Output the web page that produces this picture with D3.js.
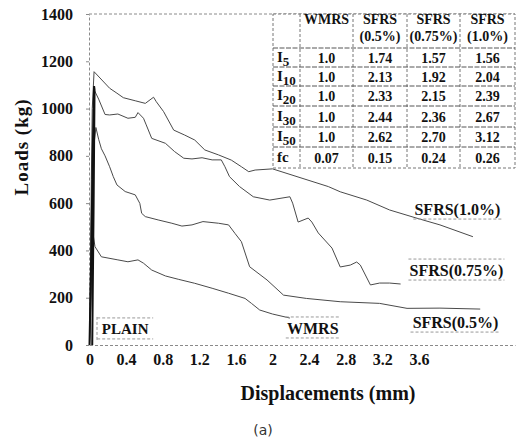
<!DOCTYPE html>
<html>
<head>
<meta charset="utf-8">
<script src="https://cdn.jsdelivr.net/npm/d3@7"></script>
<style>
  body { margin: 0; background: #fff; }
  svg text { font-family: "Liberation Serif", "DejaVu Serif", serif; font-weight: bold; fill: #111; }
</style>
</head>
<body>
<div id="chart"></div>
<script>
// load-displacement curves (displacement mm, load kg)
var plain = [[0, 0], [0.02, 400], [0.035, 800], [0.05, 1095], [0.055, 1080], [0.045, 600], [0.035, 200], [0.03, 0]];
var wmrs = [[0, 0], [0.02, 250], [0.035, 480], [0.06, 416], [0.13, 373], [0.31, 360], [0.42, 352], [0.53, 360],
    [0.59, 346], [0.68, 317], [0.83, 292], [0.97, 278], [1.15, 261], [1.34, 240], [1.52, 219], [1.70, 197],
    [1.77, 176], [1.86, 148], [2.0, 131], [2.19, 114]];
var sfrs05 = [[0, 0], [0.03, 500], [0.05, 850], [0.07, 920], [0.10, 870], [0.13, 830], [0.17, 800], [0.22, 754],
    [0.26, 712], [0.30, 677], [0.39, 649], [0.50, 635], [0.55, 599], [0.57, 557], [0.61, 543], [0.75, 529],
    [0.90, 515], [1.01, 503], [1.12, 508], [1.24, 522], [1.41, 515], [1.52, 508], [1.59, 472], [1.66, 437],
    [1.75, 331], [1.94, 275], [2.12, 211], [2.37, 197], [2.74, 183], [3.17, 176], [3.47, 155], [3.83, 156], [4.27, 152]];
var sfrs075 = [[0, 0], [0.02, 500], [0.04, 900], [0.05, 1080], [0.10, 1040], [0.17, 975], [0.22, 973], [0.31, 977],
    [0.42, 959], [0.50, 963], [0.53, 983], [0.59, 959], [0.62, 931], [0.68, 874], [0.83, 853], [0.93, 818],
    [1.03, 790], [1.12, 787], [1.23, 792], [1.34, 783], [1.44, 783], [1.48, 754], [1.53, 712], [1.64, 670],
    [1.79, 627], [1.97, 613], [2.19, 627], [2.22, 600], [2.28, 520], [2.39, 537], [2.43, 520], [2.50, 474],
    [2.65, 410], [2.74, 330], [2.85, 338], [2.92, 351], [2.96, 338], [3.07, 254], [3.17, 262], [3.28, 262], [3.4, 258]];
var sfrs10 = [[0, 0], [0.01, 300], [0.02, 700], [0.03, 1000], [0.05, 1156], [0.22, 1086], [0.30, 1065], [0.37, 1046],
    [0.50, 1033], [0.61, 1022], [0.70, 1048], [0.73, 1029], [0.81, 987], [0.92, 909], [1.04, 888], [1.15, 867],
    [1.26, 825], [1.41, 804], [1.55, 782], [1.66, 754], [1.74, 733], [1.81, 740], [2.0, 745], [2.61, 670],
    [2.74, 648], [3.03, 613], [3.28, 571], [3.58, 536], [3.83, 508], [4.19, 458]];

var xTicks = [0, 0.4, 0.8, 1.2, 1.6, 2, 2.4, 2.8, 3.2, 3.6];
var yTicks = [0, 200, 400, 600, 800, 1000, 1200, 1400];

// toughness index table
var tableCols = ["WMRS", "SFRS|(0.5%)", "SFRS|(0.75%)", "SFRS|(1.0%)"];
var tableRows = ["5", "10", "20", "30", "50", "fc"];
var tableVals = [
    ["1.0", "1.74", "1.57", "1.56"],
    ["1.0", "2.13", "1.92", "2.04"],
    ["1.0", "2.33", "2.15", "2.39"],
    ["1.0", "2.44", "2.36", "2.67"],
    ["1.0", "2.62", "2.70", "3.12"],
    ["0.07", "0.15", "0.24", "0.26"]
];

var width = 517, height = 443;
var svg = d3.select("#chart").append("svg").attr("width", width).attr("height", height);

var x = d3.scaleLinear().domain([0, 4.65]).range([89.5, 515]);
var y = d3.scaleLinear().domain([0, 1400]).range([345, 14]);

var dash = "3,2";
var axisColor = "#8a8a8a";

// axes
var yAxis = svg.append("g").attr("transform", "translate(89,0)")
    .call(d3.axisLeft(y).tickValues(yTicks).tickSize(3).tickSizeOuter(0).tickPadding(13)
        .tickFormat(d3.format("d")));
var xAxis = svg.append("g").attr("transform", "translate(0,345)")
    .call(d3.axisBottom(x).tickValues(xTicks).tickSize(0).tickSizeOuter(0).tickPadding(9)
        .tickFormat(function (d) { return String(d); }));
[yAxis, xAxis].forEach(function (g) {
    g.select(".domain").attr("stroke", axisColor).attr("stroke-dasharray", dash);
    g.selectAll(".tick line").attr("stroke", axisColor);
    g.selectAll(".tick text").style("font-size", "16px");
});
// top border at 1400
svg.append("line").attr("x1", 89).attr("x2", 515).attr("y1", y(1400)).attr("y2", y(1400))
    .attr("stroke", axisColor).attr("stroke-dasharray", dash);

// curves
var line = d3.line().x(function (d) { return x(d[0]); }).y(function (d) { return y(d[1]); });
[sfrs10, sfrs075, sfrs05, wmrs].forEach(function (s) {
    svg.append("path").datum(s).attr("d", line)
        .attr("fill", "none").attr("stroke", "#4a4a4a").attr("stroke-width", 1);
});
svg.append("path").datum(plain).attr("d", line)
    .attr("fill", "none").attr("stroke", "#111").attr("stroke-width", 2);

// curve labels with thin framing lines
var labelG = svg.append("g");
function curveLabel(txt, d, l, size, w, over, under) {
    var cx = x(d), cy = y(l);
    labelG.append("text").attr("x", cx).attr("y", cy).attr("dy", "0.35em")
        .attr("text-anchor", "middle").attr("font-size", size).text(txt);
    if (over) labelG.append("line").attr("x1", cx - w / 2).attr("x2", cx + w / 2)
        .attr("y1", cy - 11).attr("y2", cy - 11).attr("stroke", "#999").attr("stroke-dasharray", dash);
    if (under) labelG.append("line").attr("x1", cx - w / 2).attr("x2", cx + w / 2)
        .attr("y1", cy + 10).attr("y2", cy + 10).attr("stroke", "#999").attr("stroke-dasharray", dash);
}
curveLabel("SFRS(1.0%)", 4.02, 575, 16, 88, false, true);
curveLabel("SFRS(0.75%)", 4.01, 317, 16, 96, true, true);
curveLabel("SFRS(0.5%)", 4.0, 97, 16, 90, false, true);
curveLabel("WMRS", 2.44, 72, 16, 54, true, true);
curveLabel("PLAIN", 0.39, 68, 15, 56, true, true);
// left side of the PLAIN frame
labelG.append("line").attr("x1", 97).attr("x2", 97).attr("y1", y(68) - 12).attr("y2", y(68) + 12)
    .attr("stroke", "#999").attr("stroke-dasharray", dash);

// table
var colX = [273, 300, 353, 407, 460, 515];
var rowY = [14, 48, 67, 86, 106, 127, 147, 168];
var tg = svg.append("g");
tg.append("rect").attr("x", colX[0]).attr("y", rowY[0]).attr("width", colX[5] - colX[0]).attr("height", rowY[7] - rowY[0])
    .attr("fill", "#fff").attr("stroke", "#777").attr("stroke-dasharray", dash);
colX.slice(1, 5).forEach(function (cx) {
    tg.append("line").attr("x1", cx).attr("x2", cx).attr("y1", rowY[0]).attr("y2", rowY[7])
        .attr("stroke", "#777").attr("stroke-dasharray", dash);
});
rowY.slice(1, 7).forEach(function (ry) {
    tg.append("line").attr("x1", colX[0]).attr("x2", colX[5]).attr("y1", ry).attr("y2", ry)
        .attr("stroke", "#555").attr("stroke-dasharray", "5,1.5");
});
tableCols.forEach(function (c, i) {
    var cx = (colX[i + 1] + colX[i + 2]) / 2;
    var parts = c.split("|");
    tg.append("text").attr("x", cx).attr("y", 24).attr("text-anchor", "middle").attr("font-size", 14).text(parts[0]);
    if (parts.length > 1) {
        tg.append("text").attr("x", cx).attr("y", 41).attr("text-anchor", "middle").attr("font-size", 14).text(parts[1]);
    }
});
tableRows.forEach(function (r, j) {
    var cy = (rowY[j + 1] + rowY[j + 2]) / 2;
    var t = tg.append("text").attr("x", colX[0] + 4).attr("y", cy + 4).attr("font-size", 15);
    if (r == "fc") {
        t.text("fc");
    } else {
        t.append("tspan").text("I");
        t.append("tspan").attr("dy", 4).attr("font-size", 13).text(r);
    }
    tableVals[j].forEach(function (v, i) {
        tg.append("text").attr("x", (colX[i + 1] + colX[i + 2]) / 2).attr("y", cy + 5)
            .attr("text-anchor", "middle").attr("font-size", 14).text(v);
    });
});

// axis titles
svg.append("text").attr("transform", "translate(28,147) rotate(-90)")
    .attr("text-anchor", "middle").attr("font-size", 19).attr("letter-spacing", 1).text("Loads (kg)");
svg.append("text").attr("x", 328).attr("y", 400).attr("text-anchor", "middle")
    .attr("font-size", 20).text("Displacements (mm)");
svg.append("text").attr("x", 263).attr("y", 435).attr("text-anchor", "middle")
    .style("font-size", "14px").style("font-weight", "normal").style("font-family", "DejaVu Sans").style("fill", "#333").text("(a)");
</script>
</body>
</html>
